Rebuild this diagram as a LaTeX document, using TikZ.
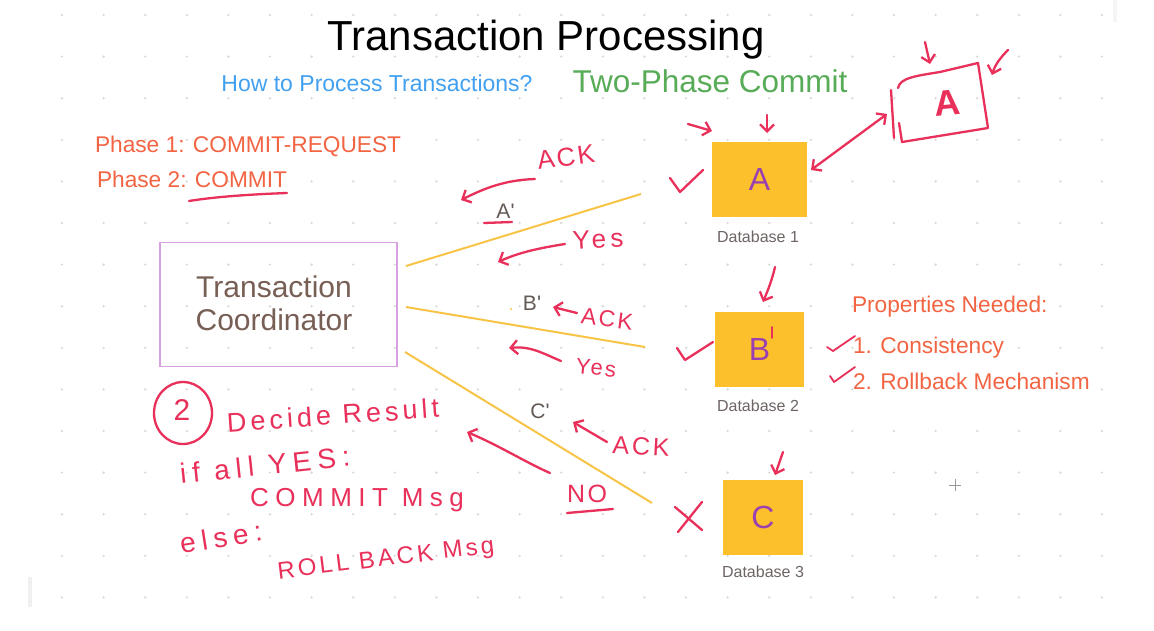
\documentclass[tikz,border=0pt]{standalone}
\usepackage{fontspec}
\setmainfont{Liberation Sans}
\newfontfamily\plainsans{Liberation Sans}
\usetikzlibrary{arrows.meta}
\definecolor{pinkink}{RGB}{232,48,90}
\definecolor{orangetxt}{RGB}{242,100,66}
\definecolor{bluetxt}{RGB}{66,160,240}
\definecolor{greentxt}{RGB}{88,172,88}
\definecolor{dbyellow}{RGB}{252,192,45}
\definecolor{linkyellow}{RGB}{248,196,72}
\definecolor{letterpurple}{RGB}{155,65,175}
\definecolor{browntxt}{RGB}{120,95,85}
\definecolor{boxpurple}{RGB}{215,160,225}
\definecolor{labelgray}{RGB}{110,100,100}
\definecolor{primegray}{RGB}{100,90,85}
\definecolor{dotgray}{RGB}{218,218,218}
\newcommand\fsz[1]{\fontsize{#1}{#1}\selectfont}
\newcommand\hwtext[3]{{\fontsize{#1}{#1}\selectfont\addfontfeature{LetterSpace=#2}#3}}
\begin{document}
\begin{tikzpicture}[x=1pt,y=-1pt,
  every node/.style={inner sep=0pt, outer sep=0pt},
  ink/.style={draw=pinkink, line width=2.3pt, line cap=round, line join=round},
  inkarrow/.style={ink, -{Straight Barb[length=7pt,width=14pt]}},
  inkdouble/.style={ink, {Straight Barb[length=7pt,width=14pt]}-{Straight Barb[length=7pt,width=14pt]}},
  hw/.style={text=pinkink},
  orangelabel/.style={text=orangetxt, anchor=base west, font=\fsz{22.7}},
  dbbox/.style={fill=dbyellow, minimum height=75pt, text=letterpurple, font=\fsz{32}},
  dblabel/.style={text=labelgray, font=\fsz{16}, anchor=base},
  primelabel/.style={text=primegray, font=\plainsans\fsz{21}, anchor=base},
  link/.style={draw=linkyellow, line width=2pt}
]
\useasboundingbox (0,0) rectangle (1154,630);
\fill[white] (0,0) rectangle (1154,630);
% dotted grid
\foreach \i in {0,...,25}{
  \foreach \j in {0,...,14}{
    \fill[dotgray] (62+41.6*\i, 15+41.6*\j) circle[radius=1.3];
  }
}
\fill[gray!12] (28,577) rectangle (32,607);
\fill[gray!8] (1113,0) rectangle (1117,22);
% crosshair
\draw[gray!80, line width=0.8pt] (949,485) -- (961,485) (955,479) -- (955,491);

% titles
\node[font=\fsz{42}, anchor=base] (title) at (546,50) {Transaction Processing};
\node[font=\fsz{23}, text=bluetxt, anchor=base] (howto) at (377,91) {How to Process Transactions?};
\node[font=\fsz{31.5}, text=greentxt, anchor=base] (tpc) at (710,92) {Two-Phase Commit};
\node[orangelabel] (ph1) at (95,152) {Phase 1: COMMIT-REQUEST};
\node[orangelabel] (ph2) at (97,187) {Phase 2: COMMIT};

% coordinator
\node[draw=boxpurple, line width=1.5pt, minimum width=237pt, minimum height=124pt] (coord) at (278.5,304.5) {};
\node[font=\fontsize{30}{33}\selectfont, text=browntxt, align=center] (coordtxt) at (274,302.8) {Transaction\\Coordinator};

% databases
\node[dbbox, minimum width=95pt] (dbA) at (759.5,179.5) {A};
\node[dbbox, minimum width=89pt] (dbB) at (759.5,349.5) {B};
\node[dbbox, minimum width=80pt] (dbC) at (763,517.5) {C};
\node[dblabel] (lab1) at (758,242) {Database 1};
\node[dblabel] (lab2) at (758,411) {Database 2};
\node[dblabel] (lab3) at (763,577) {Database 3};

% links
\coordinate (l1s) at (406,266); \coordinate (l1e) at (641,194);
\coordinate (l2s) at (406,307); \coordinate (l2e) at (645,347);
\coordinate (l3s) at (405,352); \coordinate (l3e) at (652,503);
\draw[link] (l1s) -- (l1e);
\draw[link] (l2s) -- (l2e);
\draw[link] (l3s) -- (l3e);

% primes
\node[primelabel] (ap) at (505.5,218) {A'};
\node[primelabel] (bp) at (532,310) {B'};
\node[primelabel] (cp) at (540,418) {C'};
\fill[linkyellow] (511,309) circle[radius=1.2];

% properties
\node[orangelabel] (props) at (852,312) {Properties Needed:};
\node[orangelabel] (p1) at (853,353) {1. Consistency};
\node[orangelabel] (p2) at (853,389) {2. Rollback Mechanism};

% ---- handwriting ----
\node[hw, rotate=8] (ackA) at (566,157) {\hwtext{26}{8}{ACK}};
\node[hw, rotate=3] (yesA) at (598,239) {\hwtext{26}{16}{Yes}};
\node[hw, rotate=-7] (ackB) at (607,319) {\hwtext{23}{10}{ACK}};
\node[hw, rotate=-5] (yesB) at (596,368) {\hwtext{22}{10}{Yes}};
\node[hw, rotate=-3] (ackC) at (641,446) {\hwtext{25}{11}{ACK}};
\node[hw] (noC) at (587,494) {\hwtext{25}{10}{NO}};
\node[hw] (two) at (182,410) {\hwtext{30}{0}{2}};
\node[hw, rotate=4] (decide) at (333,415) {\hwtext{27}{15}{Decide Result}};
\node[hw, rotate=6] (ifall) at (265,465) {\hwtext{28}{22}{if all YES:}};
\node[hw] (commitmsg) at (357,500) {\hwtext{26}{25}{COMMIT Msg}};
\node[hw, rotate=9] (elsel) at (221,537) {\hwtext{28}{21}{else:}};
\node[hw, rotate=7] (rollback) at (386,560) {\hwtext{24}{13}{ROLL BACK Msg}};
\node[hw, rotate=5, font=\bfseries] (sketchA) at (947,103) {\hwtext{36}{0}{A}};

% circle round 2
\draw[ink] (183,413) ellipse[x radius=29, y radius=31];

% underlines
\draw[ink] (189,201) .. controls (220,196) and (260,194) .. (287,193);
\draw[ink] (484,223) -- (512,222);
\draw[ink] (567,513) -- (613,509);

% hand arrows
\draw[inkarrow] (577,313) -- (553,307);
\draw[inkarrow] (535,179) .. controls (505,180) and (485,188) .. (461,200);
\draw[inkarrow] (565,244) .. controls (540,248) and (520,252) .. (498,262);
\draw[inkarrow] (561,361) .. controls (540,352) and (530,346) .. (509,348);
\draw[inkarrow] (607,442) -- (573,422);
\draw[inkarrow] (550,473) .. controls (525,462) and (500,446) .. (467,432);
\draw[inkarrow] (688,124) -- (712,131);
\draw[inkarrow] (767,115) -- (767,133);
\draw[inkarrow] (775,267) .. controls (772,280) and (768,290) .. (763,302);
\draw[inkarrow] (783,452) -- (775,475);
\draw[inkarrow] (925,42) -- (930,64);
\draw[inkarrow] (1008,50) .. controls (1000,58) and (995,65) .. (992,75);
\draw[inkdouble] (811,170) -- (887,114);

% checks and cross
\draw[ink] (670,178) -- (680,192) -- (703,170);
\draw[ink] (677,348) -- (685,360) -- (713,342);
\draw[ink, line width=1.8pt] (827,347) -- (833,351) -- (855,336);
\draw[ink, line width=1.8pt] (830,376) -- (834,382) -- (855,367);
\draw[ink] (675,507) -- (702,530);
\draw[ink] (702,502) -- (678,532);
\draw[ink, line width=1.8pt] (772,327) -- (772,338);

% sketched box
\draw[ink] (898,88) .. controls (900,78) and (915,76) .. (940,72) -- (978,63) -- (988,128) -- (902,142) -- (899,123);
\draw[ink] (891,90) -- (894,138);
\end{tikzpicture}
\end{document}
